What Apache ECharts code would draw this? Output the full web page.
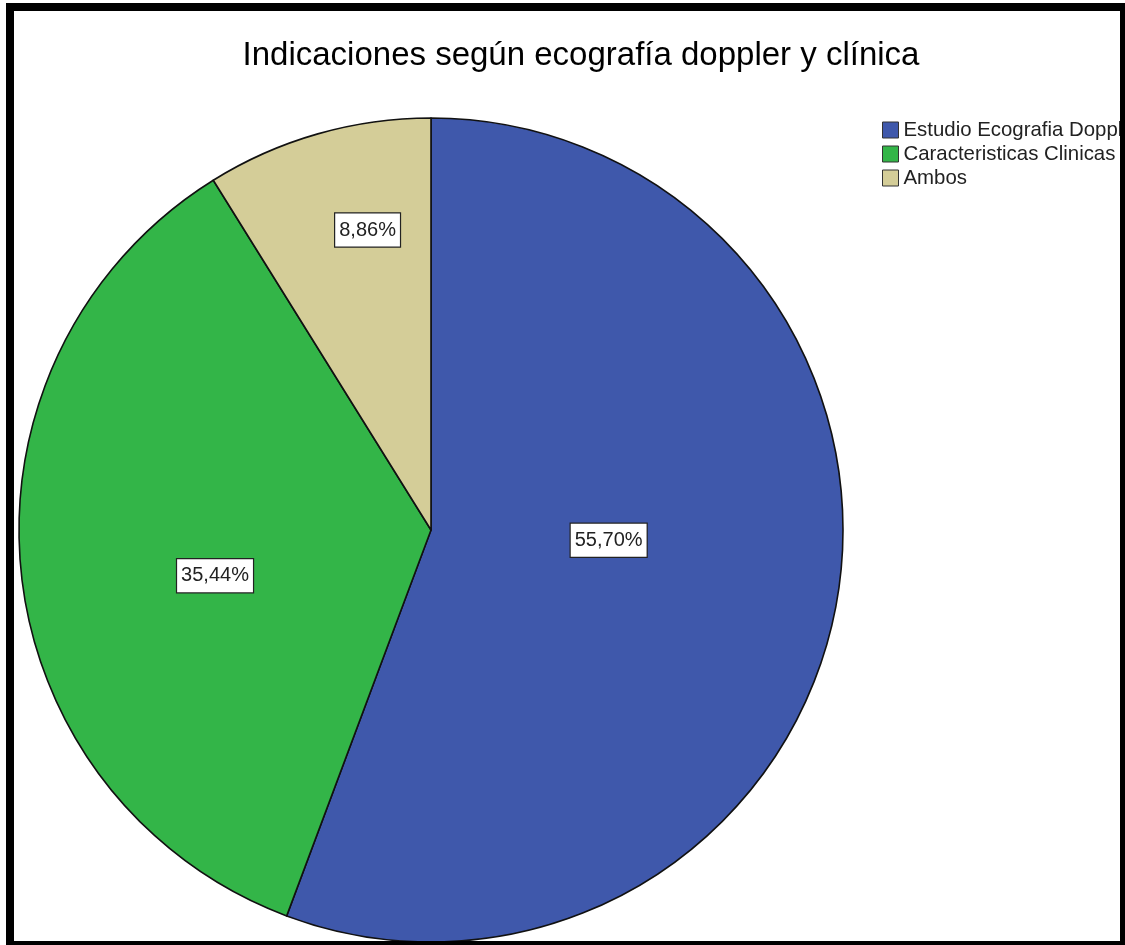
<!DOCTYPE html>
<html>
<head>
<meta charset="utf-8">
<title>Indicaciones según ecografía doppler y clínica</title>
<script src="https://cdn.jsdelivr.net/npm/echarts@6/dist/echarts.min.js"></script>
<style>
  html, body { margin: 0; padding: 0; background: #fff; }
  #frame {
    position: absolute;
    left: 6px;
    top: 3px;
    width: 1119px;
    height: 942px;
    box-sizing: border-box;
    border-style: solid;
    border-color: #000;
    border-width: 8px 5px 4px 8px;
    overflow: hidden;
    background: #fff;
  }
  #chart { width: 1106px; height: 930px; }
</style>
</head>
<body>
<div id="frame"><div id="chart"></div></div>
<script>
const categories = ['Estudio Ecografia Doppler', 'Caracteristicas Clinicas', 'Ambos']
const counts = [44, 28, 7]
const colors = ['#3f58ab', '#33b548', '#d4cd98']

// nudges so labels sit where SPSS drew them
const labelShift = [
  { dx: -28, dy: -27 },
  { dx: -8, dy: 25 },
  { dx: -6, dy: -99 }
]

const font = 'Arial, "Liberation Sans", sans-serif'

const chart = echarts.init(document.getElementById('chart'))

const option = {
  animation: false,
  title: {
    text: 'Indicaciones según ecografía doppler y clínica',
    left: 562,
    top: 23,
    textAlign: 'center',
    textStyle: {
      fontFamily: font,
      fontSize: 33,
      fontWeight: 'normal',
      color: '#000'
    }
  },
  legend: {
    orient: 'vertical',
    left: 863,
    top: 104,
    icon: 'rect',
    itemWidth: 16,
    itemHeight: 16,
    itemGap: 4,
    selectedMode: false,
    data: categories,
    itemStyle: {
      borderColor: '#333',
      borderWidth: 1
    },
    textStyle: {
      fontFamily: font,
      fontSize: 20.4,
      color: '#222'
    }
  },
  series: [
    {
      type: 'pie',
      center: [417, 519],
      radius: [0, 412],
      startAngle: 90,
      clockwise: true,
      avoidLabelOverlap: false,
      emphasis: { disabled: true },
      itemStyle: {
        borderColor: '#111',
        borderWidth: 1.6
      },
      label: {
        show: true,
        position: 'inside',
        formatter: p => p.percent.toFixed(2).replace('.', ',') + '%',
        fontFamily: font,
        fontSize: 20,
        color: '#222',
        backgroundColor: '#fff',
        borderColor: '#222',
        borderWidth: 1.2,
        padding: [7, 4, 6, 4]
      },
      labelLine: { show: false },
      labelLayout: p => labelShift[p.dataIndex],
      data: categories.map((name, i) => ({
        name: name,
        value: counts[i],
        itemStyle: { color: colors[i] }
      }))
    }
  ]
}

chart.setOption(option)
</script>
</body>
</html>
